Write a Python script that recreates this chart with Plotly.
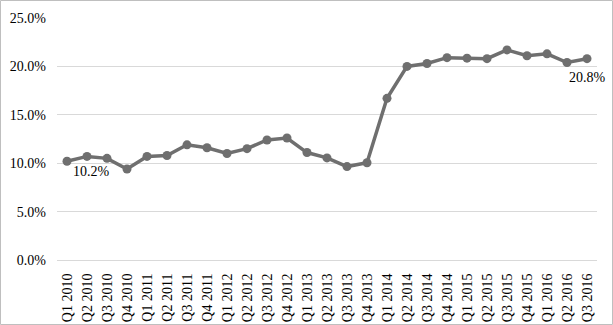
import plotly.graph_objects as go

quarters = ["Q1 2010","Q2 2010","Q3 2010","Q4 2010","Q1 2011","Q2 2011","Q3 2011","Q4 2011",
            "Q1 2012","Q2 2012","Q3 2012","Q4 2012","Q1 2013","Q2 2013","Q3 2013","Q4 2013",
            "Q1 2014","Q2 2014","Q3 2014","Q4 2014","Q1 2015","Q2 2015","Q3 2015","Q4 2015",
            "Q1 2016","Q2 2016","Q3 2016"]
values = [10.2, 10.7, 10.5, 9.4, 10.7, 10.8, 11.9, 11.6,
          11.0, 11.5, 12.4, 12.6, 11.1, 10.55, 9.65, 10.05,
          16.7, 20.0, 20.3, 20.9, 20.85, 20.8, 21.7, 21.1,
          21.3, 20.4, 20.8]
y_ticks = [0, 5, 10, 15, 20, 25]

W, H = 613, 325
ml, mr, mt, mb = 57, 16, 18, 65
font_family = "Liberation Serif"
line_color = "#6f6f6f"

fig = go.Figure()
fig.add_trace(go.Scatter(
    x=quarters, y=values, mode="lines+markers",
    line=dict(color=line_color, width=3.5),
    marker=dict(color=line_color, size=9),
    hoverinfo="skip", showlegend=False, cliponaxis=False,
))

# data labels for first and last points
fig.add_annotation(x=quarters[0], y=values[0], text=f"{values[0]:.1f}%", showarrow=False,
                   xshift=24, yshift=-10, font=dict(family=font_family, size=14, color="#000"))
fig.add_annotation(x=quarters[-1], y=values[-1], text=f"{values[-1]:.1f}%", showarrow=False,
                   xshift=0, yshift=-19, font=dict(family=font_family, size=14, color="#000"))

# outer chart border
pw, ph = W - ml - mr, H - mt - mb
fig.add_shape(type="rect", xref="paper", yref="paper",
              x0=(-ml + 0.5) / pw, x1=(pw + mr - 0.5) / pw,
              y0=(-mb + 0.5) / ph, y1=(ph + mt - 0.5) / ph,
              line=dict(color="#bfbfbf", width=1), fillcolor="rgba(0,0,0,0)", layer="below")

fig.update_layout(
    width=W, height=H,
    margin=dict(l=ml, r=mr, t=mt, b=mb, pad=0, autoexpand=False),
    paper_bgcolor="white", plot_bgcolor="white",
    font=dict(family=font_family, size=14, color="#000"),
    xaxis=dict(type="category", range=[-0.5, len(quarters) - 0.5], autorange=False,
               tickangle=-90, showgrid=False, showline=True, automargin=False,
               linecolor="#d9d9d9", linewidth=1, ticks="", ticklabelstandoff=7,
               tickfont=dict(family=font_family, size=14, color="#000"), fixedrange=True),
    yaxis=dict(range=[0, 25], autorange=False, tickvals=y_ticks, ticktext=[f"{v:.1f}%" for v in y_ticks],
               showgrid=True, gridcolor="#d9d9d9", gridwidth=1, zeroline=False, showline=False,
               ticks="", ticklabelstandoff=10, automargin=False,
               tickfont=dict(family=font_family, size=14, color="#000"), fixedrange=True),
)

fig.write_html("out.html")
